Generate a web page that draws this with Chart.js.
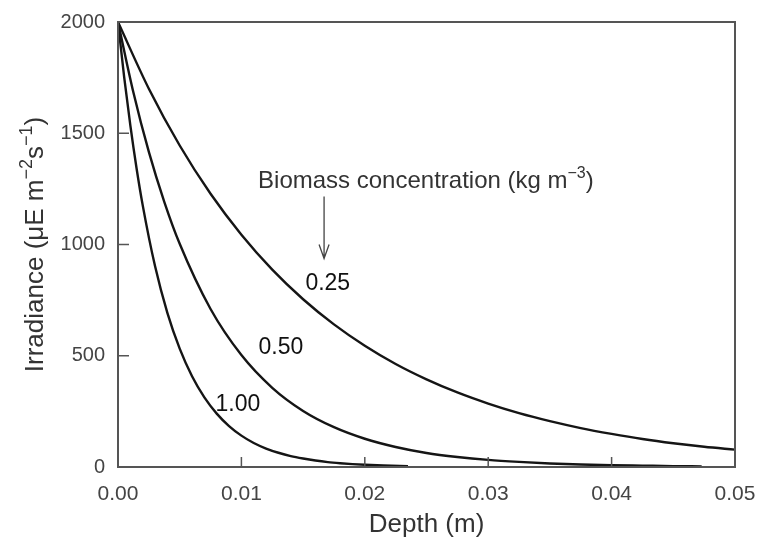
<!DOCTYPE html>
<html>
<head>
<meta charset="utf-8">
<script src="https://cdn.jsdelivr.net/npm/chart.js@4.4.1/dist/chart.umd.min.js"></script>
<style>
  html, body { margin: 0; padding: 0; background: #fff; }
  #wrap { width: 758px; height: 537px; }
</style>
</head>
<body>
<div id="wrap"><canvas id="graficoIrradiancia" width="758" height="537"></canvas></div>
<script>
// depth (m) and irradiance, one pair of arrays per biomass concentration
const depth025 = [0, 0.0025, 0.005, 0.0075, 0.01, 0.0125, 0.015, 0.0175, 0.02, 0.0225, 0.025, 0.0275, 0.03, 0.0325, 0.035, 0.0375, 0.04, 0.0425, 0.045, 0.0475, 0.05];
const irr025 = [2000, 1700, 1445, 1228, 1044, 887, 754, 641, 545, 463, 394, 335, 285, 242, 206, 175, 149, 126, 107, 91, 78];

const depth050 = [0, 0.00125, 0.0025, 0.00375, 0.005, 0.0075, 0.01, 0.0125, 0.015, 0.0175, 0.02, 0.0225, 0.025, 0.0275, 0.03, 0.0325, 0.035, 0.0375, 0.04, 0.0425, 0.045, 0.0473];
const irr050 = [2000, 1683, 1416, 1192, 1003, 710, 503, 356, 252, 179, 127, 90, 63, 45, 32, 23, 16, 11, 8, 6, 4, 3];

const depth100 = [0, 0.0005, 0.001, 0.0015, 0.002, 0.003, 0.004, 0.005, 0.006, 0.007, 0.008, 0.009, 0.010, 0.011, 0.012, 0.013, 0.014, 0.015, 0.016, 0.017, 0.018, 0.019, 0.020, 0.0215, 0.0235];
const irr100 = [2000, 1752, 1535, 1344, 1177, 903, 693, 532, 408, 313, 240, 184, 141, 108, 83, 64, 49, 38, 29, 22, 17, 13, 10, 7, 4];

const concLabels = ["0.25", "0.50", "1.00"];
const labelPos = [[0.0170, 824], [0.0132, 536], [0.00972, 279]];
const xTicks = [0, 0.01, 0.02, 0.03, 0.04, 0.05];
const yTicks = [0, 500, 1000, 1500, 2000];

const pares = (xs, ys) => xs.map((x, i) => ({ x: x, y: ys[i] }));

const FONT = "'Liberation Sans', Arial, sans-serif";
const GRIS = "#555";

const serie = (xs, ys) => ({
  data: pares(xs, ys),
  borderColor: "#151515",
  borderWidth: 2.4,
  pointRadius: 0,
  fill: false,
  showLine: true,
  cubicInterpolationMode: "monotone"
});

// text with superscript pieces: [texto, esSuper]
function medirTramos(ctx, tramos, size) {
  let w = 0;
  tramos.forEach(([t, sup]) => {
    ctx.font = (sup ? Math.round(size * 0.68) : size) + "px " + FONT;
    w += ctx.measureText(t).width;
  });
  return w;
}
function dibujarTramos(ctx, tramos, x, y, size) {
  tramos.forEach(([t, sup]) => {
    ctx.font = (sup ? Math.round(size * 0.68) : size) + "px " + FONT;
    ctx.fillText(t, x, sup ? y - size * 0.42 : y);
    x += ctx.measureText(t).width;
  });
}

// frame, inward ticks, y title and the text labels inside the plot
const marcoYNotas = {
  id: "marcoYNotas",
  afterDatasetsDraw(chart) {
    const { ctx, chartArea: a, scales: { x, y } } = chart;
    ctx.save();
    ctx.strokeStyle = GRIS;
    ctx.lineWidth = 2;
    ctx.strokeRect(a.left, a.top, a.right - a.left, a.bottom - a.top);
    ctx.lineWidth = 1.5;
    ctx.beginPath();
    xTicks.forEach(t => {
      const px = x.getPixelForValue(t);
      ctx.moveTo(px, a.bottom);
      ctx.lineTo(px, a.bottom - 10);
    });
    yTicks.forEach(t => {
      const py = y.getPixelForValue(t);
      ctx.moveTo(a.left, py);
      ctx.lineTo(a.left + 11, py);
    });
    ctx.stroke();

    ctx.fillStyle = "#111";
    ctx.font = "23px " + FONT;
    ctx.textAlign = "center";
    ctx.textBaseline = "middle";
    concLabels.forEach((txt, i) => {
      ctx.fillText(txt, x.getPixelForValue(labelPos[i][0]), y.getPixelForValue(labelPos[i][1]));
    });

    ctx.fillStyle = "#333";
    ctx.textAlign = "left";
    ctx.textBaseline = "alphabetic";
    dibujarTramos(ctx, [["Biomass concentration (kg m", false], ["\u22123", true], [")", false]],
      x.getPixelForValue(0.01135), y.getPixelForValue(1288) + 8, 24);

    const ax = x.getPixelForValue(0.0167);
    const y0 = y.getPixelForValue(1216), y1 = y.getPixelForValue(937);
    ctx.strokeStyle = "#444";
    ctx.lineWidth = 1.3;
    ctx.beginPath();
    ctx.moveTo(ax, y0);
    ctx.lineTo(ax, y1);
    ctx.moveTo(ax - 5, y1 - 14);
    ctx.lineTo(ax, y1);
    ctx.lineTo(ax + 5, y1 - 14);
    ctx.stroke();

    // y axis title, rotated, centred on the plot height
    const tituloY = [["Irradiance (\u03BCE m", false], ["\u22122", true], ["s", false], ["\u22121", true], [")", false]];
    const w = medirTramos(ctx, tituloY, 26);
    ctx.translate(43, (a.top + a.bottom) / 2);
    ctx.rotate(-Math.PI / 2);
    dibujarTramos(ctx, tituloY, -w / 2, 0, 26);
    ctx.restore();
  }
};

const ctxIrr = document.getElementById("graficoIrradiancia").getContext("2d");
new Chart(ctxIrr, {
  type: "scatter",
  data: {
    datasets: [serie(depth025, irr025), serie(depth050, irr050), serie(depth100, irr100)]
  },
  options: {
    responsive: false,
    animation: false,
    layout: { padding: { top: 22, right: 23, left: 0, bottom: 0 } },
    plugins: { legend: { display: false }, tooltip: { enabled: false } },
    scales: {
      x: {
        type: "linear",
        min: 0,
        max: 0.05,
        afterFit: s => { s.height = 70; s.paddingLeft = 0; s.paddingRight = 0; },
        afterBuildTicks: s => { s.ticks = xTicks.map(v => ({ value: v })); },
        grid: { display: false },
        border: { display: true, color: GRIS, width: 2 },
        ticks: {
          padding: 7,
          color: "#444",
          font: { family: FONT, size: 21 },
          callback: v => v.toFixed(2)
        },
        title: {
          display: true,
          text: "Depth (m)",
          color: "#333",
          font: { family: FONT, size: 26 },
          padding: { top: 0, bottom: -3 }
        }
      },
      y: {
        type: "linear",
        min: 0,
        max: 2000,
        afterFit: s => { s.width = 118; s.paddingTop = 0; s.paddingBottom = 0; },
        afterBuildTicks: s => { s.ticks = yTicks.map(v => ({ value: v })); },
        grid: { display: false },
        border: { display: true, color: GRIS, width: 2 },
        ticks: {
          padding: 5,
          color: "#444",
          font: { family: FONT, size: 20 },
          callback: v => String(v)
        },
        title: { display: false }
      }
    }
  },
  plugins: [marcoYNotas]
});
</script>
</body>
</html>
